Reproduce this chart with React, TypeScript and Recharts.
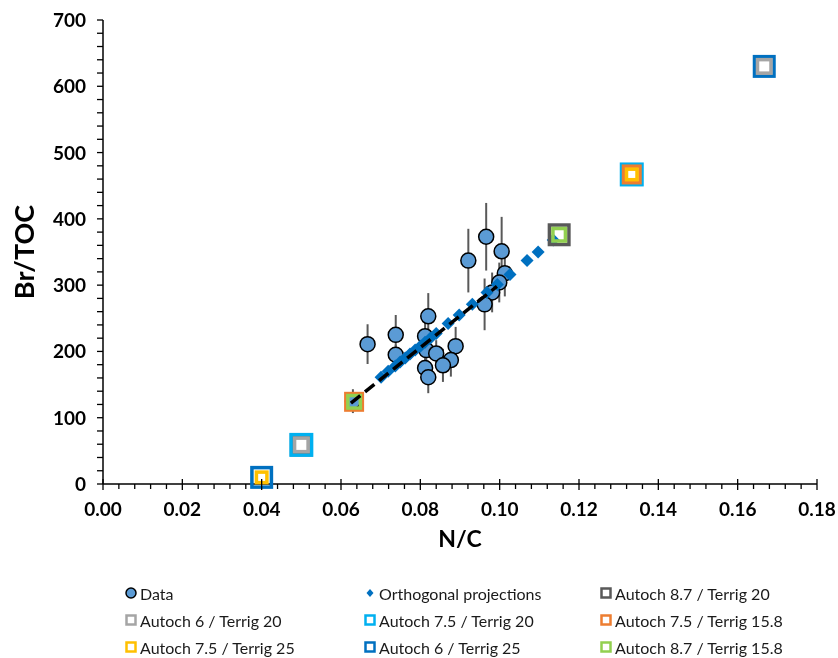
import { ScatterChart, Scatter, XAxis, YAxis, ErrorBar, Legend } from "recharts";

// measured points (N/C vs Br/TOC) with their error
const dataNC = [0.063, 0.0667, 0.0738, 0.0738, 0.082, 0.0812, 0.0815, 0.084, 0.0889, 0.0877, 0.0857, 0.0812, 0.082, 0.0921, 0.0966, 0.1005, 0.1013, 0.0999, 0.0981, 0.0962];
const dataBrTOC = [125, 211, 225, 195, 253, 223, 202, 197, 208, 187, 179, 175, 161, 337, 373, 351, 318, 304, 289, 271];
const dataErr = [18, 30, 30, 15, 35, 25, 20, 20, 29, 25, 25, 20, 24, 48, 51, 52, 35, 30, 30, 39];

// orthogonal projections on the mixing line
const projNC = [0.0701, 0.0719, 0.0737, 0.0749, 0.0762, 0.0774, 0.0787, 0.08, 0.0812, 0.0825, 0.084, 0.087, 0.0898, 0.0931, 0.0968, 0.0994, 0.1026, 0.1069, 0.1097, 0.1135];
const projBrTOC = [161, 170, 178, 184, 190, 196, 202, 208, 214, 220, 227, 242, 255, 271, 289, 301, 316, 337, 350, 368];

// dashed fit
const fitNC = [0.0625, 0.0993];
const fitBrTOC = [122, 298];

// end-member mixes
const mixNames = [
  "Autoch 8.7 / Terrig 20",
  "Autoch 6 / Terrig 20",
  "Autoch 7.5 / Terrig 20",
  "Autoch 7.5 / Terrig 15.8",
  "Autoch 7.5 / Terrig 25",
  "Autoch 6 / Terrig 25",
  "Autoch 8.7 / Terrig 15.8",
];
const mixNC = [
  [0.05, 0.115],
  [0.05, 0.1667],
  [0.05, 0.1333],
  [0.0633, 0.1333],
  [0.04, 0.1333],
  [0.04, 0.1667],
  [0.0633, 0.115],
];
const mixBrTOC = [
  [59, 376],
  [59, 630],
  [59, 467],
  [124, 467],
  [10, 467],
  [10, 630],
  [124, 376],
];

// major every 0.02 / 100, minor every 0.004 / 20
const xMinor = Array.from({ length: 46 }, (_, i) => +(i * 0.004).toFixed(3));
const yMinor = Array.from({ length: 36 }, (_, i) => i * 20);

const mixColors = ["#595959", "#a5a5a5", "#00b0f0", "#ed7d31", "#ffc000", "#0070c0", "#92d050"];
const mixSize = [23, 17, 24, 20, 14, 23, 16];
const drawOrder = [0, 2, 5, 3, 1, 6, 4];

const points = dataNC.map((x, i) => ({ x, y: dataBrTOC[i], err: dataErr[i] }));
const projections = projNC.map((x, i) => ({ x, y: projBrTOC[i] }));
const fit = fitNC.map((x, i) => ({ x, y: fitBrTOC[i] }));

const FONT = "Lato, 'Open Sans', sans-serif";

const Circle = (p: any) => (
  <circle cx={p.cx} cy={p.cy} r={7.5} fill="#5b9bd5" stroke="#000" strokeWidth={1.5} />
);

const Diamond = (p: any) => (
  <polygon
    points={`${p.cx},${p.cy - 6.5} ${p.cx + 6.5},${p.cy} ${p.cx},${p.cy + 6.5} ${p.cx - 6.5},${p.cy}`}
    fill="#0070c0"
  />
);

const squareShape = (color: string, size: number) => (p: any) => {
  const w = 3.5;
  const s = size - w;
  return <rect x={p.cx - s / 2} y={p.cy - s / 2} width={s} height={s} fill="none" stroke={color} strokeWidth={w} />;
};

const XTick = (p: any) => {
  const v = p.payload.value;
  const major = Math.abs(v * 50 - Math.round(v * 50)) < 1e-6;
  return (
    <g>
      <line x1={p.x} x2={p.x} y1={major ? p.y - 5 : p.y} y2={p.y + (major ? 6 : 5)} stroke="#000" strokeWidth={1.3} />
      {major && (
        <text x={p.x} y={p.y + 32} textAnchor="middle" fontSize={19} fontWeight={700} fill="#000" fontFamily={FONT}>
          {v.toFixed(2)}
        </text>
      )}
    </g>
  );
};

const YTick = (p: any) => {
  const v = p.payload.value;
  const major = v % 100 === 0;
  return (
    <g>
      <line x1={p.x - 6} x2={p.x} y1={p.y} y2={p.y} stroke="#000" strokeWidth={1.3} />
      {major && (
        <text x={p.x - 17} y={p.y + 7} textAnchor="end" fontSize={19} fontWeight={700} fill="#000" fontFamily={FONT}>
          {v}
        </text>
      )}
    </g>
  );
};

const legendItems = [
  { name: "Data", kind: "circle", color: "#5b9bd5" },
  { name: "Orthogonal projections", kind: "diamond", color: "#0070c0" },
  ...mixNames.map((name, i) => ({ name, kind: "square", color: mixColors[i] })),
];
const legendCols = [131, 370, 606];
const legendRows = [55, 82, 109];

const renderLegend = () => (
  <div style={{ position: "relative", width: 838, height: 120, fontFamily: FONT, fontSize: 16, color: "#1a1a1a" }}>
    {legendItems.map((it, i) => {
      const cx = legendCols[i % 3];
      const cy = legendRows[Math.floor(i / 3)];
      return (
        <div key={it.name} style={{ position: "absolute", left: cx - 7, top: cy - 11, height: 22, display: "flex", alignItems: "center", whiteSpace: "nowrap" }}>
          <svg width={14} height={14} style={{ marginRight: 2 }}>
            {it.kind === "circle" && <circle cx={7} cy={7} r={5} fill={it.color} stroke="#000" strokeWidth={1.5} />}
            {it.kind === "diamond" && <polygon points="7,3 10.5,7 7,11 3.5,7" fill={it.color} />}
            {it.kind === "square" && <rect x={2.5} y={2.5} width={9} height={9} fill="#fff" stroke={it.color} strokeWidth={2.5} />}
          </svg>
          <span>{it.name}</span>
        </div>
      );
    })}
  </div>
);

export default function App() {
  return (
    <div style={{ position: "fixed", left: 0, top: 0, fontFamily: FONT }}>
      <ScatterChart width={838} height={658} margin={{ top: 20, right: 21, left: 0, bottom: 0 }}>
        <XAxis
          type="number"
          dataKey="x"
          domain={[0, 0.18]}
          ticks={xMinor}
          interval={0}
          tick={XTick}
          tickSize={0}
          tickMargin={0}
          tickLine={false}
          axisLine={{ stroke: "#000", strokeWidth: 1.5 }}
          height={54}
          label={{
            content: ({ viewBox }: any) => (
              <text x={viewBox.x + viewBox.width / 2} y={viewBox.y + 54} textAnchor="middle" dominantBaseline="central" fontSize={23} fontWeight={700} fill="#000" fontFamily={FONT}>
                N/C
              </text>
            ),
          }}
        />
        <YAxis
          type="number"
          dataKey="y"
          domain={[0, 700]}
          ticks={yMinor}
          interval={0}
          tick={YTick}
          tickSize={0}
          tickMargin={0}
          tickLine={false}
          axisLine={{ stroke: "#000", strokeWidth: 1.5 }}
          width={103}
          label={{
            content: ({ viewBox }: any) => {
              const cy = viewBox.y + viewBox.height / 2;
              return (
                <text x={23} y={cy} transform={`rotate(-90, 23, ${cy})`} textAnchor="middle" dominantBaseline="central" fontSize={27} fontWeight={700} fill="#000" fontFamily={FONT}>
                  Br/TOC
                </text>
              );
            },
          }}
        />
        <Scatter name="Data" data={points} shape={Circle} isAnimationActive={false}>
          <ErrorBar dataKey="err" direction="y" width={0} stroke="#595959" strokeWidth={2} isAnimationActive={false} />
        </Scatter>
        <Scatter name="Orthogonal projections" data={projections} shape={Diamond} isAnimationActive={false} />
        {drawOrder.map((i) => (
          <Scatter
            key={mixNames[i]}
            name={mixNames[i]}
            data={mixNC[i].map((x, j) => ({ x, y: mixBrTOC[i][j] }))}
            shape={squareShape(mixColors[i], mixSize[i])}
            isAnimationActive={false}
          />
        ))}
        <Scatter
          name="fit"
          data={fit}
          line={{ stroke: "#000", strokeWidth: 3.5, strokeDasharray: "12 6" }}
          shape={() => <g />}
          legendType="none"
          isAnimationActive={false}
        />
        <Legend verticalAlign="bottom" align="left" height={120} wrapperStyle={{ left: 0, width: 838 }} content={renderLegend} />
      </ScatterChart>
    </div>
  );
}
